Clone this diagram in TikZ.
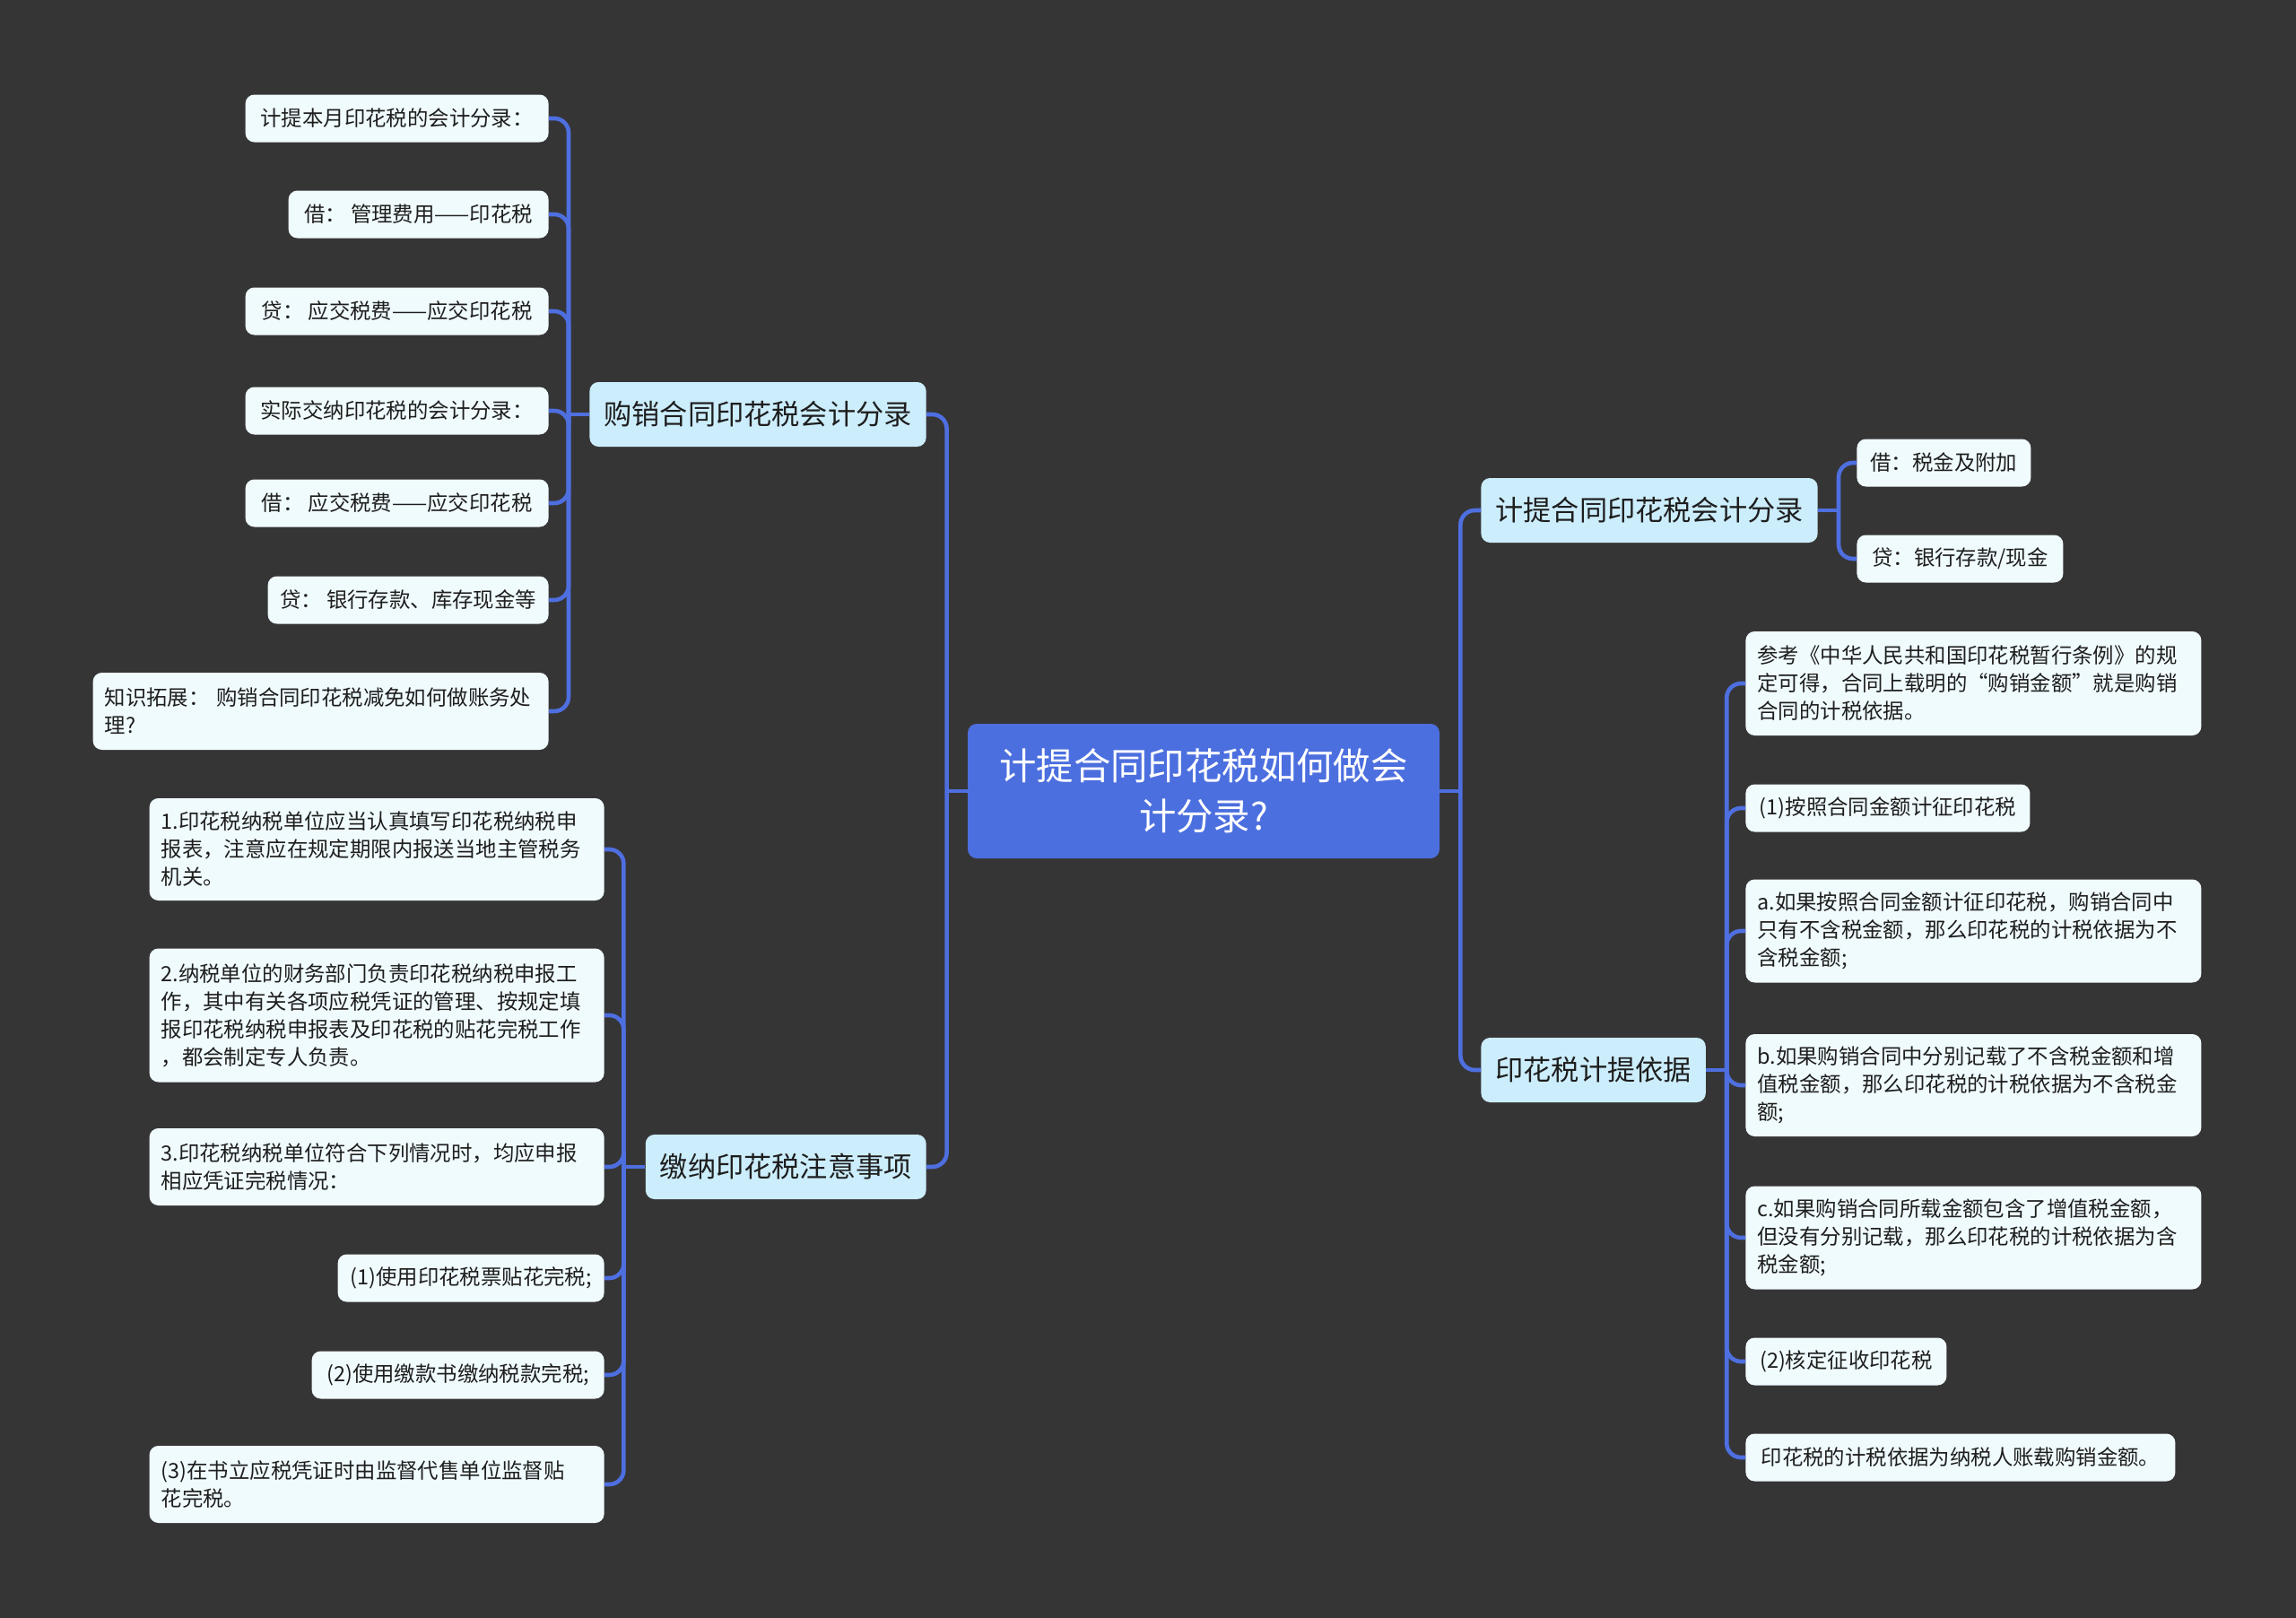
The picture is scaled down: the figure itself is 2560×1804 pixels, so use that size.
\documentclass[tikz,border=0pt]{standalone}
\usepackage{fontspec}
\setmainfont{Noto Sans CJK SC}
\definecolor{bgc}{HTML}{363536}
\definecolor{linec}{HTML}{4E6FE0}
\definecolor{rootc}{HTML}{4C6FDF}
\definecolor{lvone}{HTML}{CCEDFC}
\definecolor{lvtwo}{HTML}{F0FBFE}
\definecolor{txt}{HTML}{1E1E1E}
\begin{document}
\begin{tikzpicture}[x=0.5pt,y=-0.5pt,
  conn/.style={draw=linec, line width=2.3pt},
  branch/.style={conn, rounded corners=8pt},
  rootnode/.style={fill=rootc, rounded corners=5pt, text=white,
    font=\fontsize{20.7pt}{27.8pt}\selectfont, align=center, text width=250pt,
    minimum width=263pt, minimum height=75pt, inner sep=0pt},
  topic/.style={fill=lvone, rounded corners=5pt, text=txt,
    font=\fontsize{15.6pt}{20pt}\selectfont, inner xsep=8pt, inner ysep=0pt, minimum height=36pt},
  leaf/.style={fill=lvtwo, rounded corners=5pt, text=txt,
    font=\fontsize{11.7pt}{15.5pt}\selectfont, inner xsep=6.5pt, inner ysep=0pt, minimum height=26.5pt},
  mleaf/.style={leaf, align=left, text width=#1}
]
\fill[bgc] (0,0) rectangle (2560,1804);
\useasboundingbox (0,0) rectangle (2560,1804);

% root
\node[rootnode] (root) at (1342,882) {计提合同印花税如何做会\\计分录?};

% topics
\node[topic, anchor=east] (t1) at (1033,462) {购销合同印花税会计分录};
\node[topic, anchor=east] (t2) at (1033,1301) {缴纳印花税注意事项};
\node[topic, anchor=west] (t3) at (1651,569) {计提合同印花税会计分录};
\node[topic, anchor=west] (t4) at (1651,1193) {印花税计提依据};

% left group 1
\node[leaf, anchor=east, minimum width=169pt] (g1a) at (612,132) {计提本月印花税的会计分录：};
\node[leaf, anchor=east, minimum width=145pt] (g1b) at (612,239) {借： 管理费用——印花税};
\node[leaf, anchor=east, minimum width=169pt] (g1c) at (612,347) {贷： 应交税费——应交印花税};
\node[leaf, anchor=east, minimum width=169pt] (g1d) at (612,458) {实际交纳印花税的会计分录：};
\node[leaf, anchor=east, minimum width=169pt] (g1e) at (612,561) {借： 应交税费——应交印花税};
\node[leaf, anchor=east, minimum width=156.5pt] (g1f) at (612,669) {贷： 银行存款、库存现金等};
\node[mleaf=241pt, anchor=east, minimum height=43pt] (g1g) at (612,793) {知识拓展： 购销合同印花税减免如何做账务处\\理?};

% left group 2
\node[mleaf=240.5pt, anchor=east, minimum height=57pt] (g2a) at (674,947) {1.印花税纳税单位应当认真填写印花税纳税申\\报表，注意应在规定期限内报送当地主管税务\\机关。};
\node[mleaf=240.5pt, anchor=east, minimum height=74.5pt] (g2b) at (674,1132) {2.纳税单位的财务部门负责印花税纳税申报工\\作，其中有关各项应税凭证的管理、按规定填\\报印花税纳税申报表及印花税的贴花完税工作\\，都会制定专人负责。};
\node[mleaf=240.5pt, anchor=east, minimum height=43pt] (g2c) at (674,1301) {3.印花税纳税单位符合下列情况时，均应申报\\相应凭证完税情况：};
\node[leaf, anchor=east, minimum width=148.5pt] (g2d) at (674,1425) {(1)使用印花税票贴花完税;};
\node[leaf, anchor=east, minimum width=163pt] (g2e) at (674,1533) {(2)使用缴款书缴纳税款完税;};
\node[mleaf=240.5pt, anchor=east, minimum height=43pt] (g2f) at (674,1655) {(3)在书立应税凭证时由监督代售单位监督贴\\花完税。};

% right group 1
\node[leaf, anchor=west, minimum width=97pt] (r1a) at (2070,516) {借：税金及附加};
\node[leaf, anchor=west, minimum width=115pt] (r1b) at (2070,623) {贷：银行存款/现金};

% right group 2
\node[mleaf=241pt, anchor=west, minimum height=58pt] (r2a) at (1946,762) {参考《中华人民共和国印花税暂行条例》的规\\定可得，合同上载明的“购销金额”就是购销\\合同的计税依据。};
\node[leaf, anchor=west, minimum width=158.5pt] (r2b) at (1946,901) {(1)按照合同金额计征印花税};
\node[mleaf=241pt, anchor=west, minimum height=57.5pt] (r2c) at (1946,1038) {a.如果按照合同金额计征印花税，购销合同中\\只有不含税金额，那么印花税的计税依据为不\\含税金额;};
\node[mleaf=241pt, anchor=west, minimum height=57pt] (r2d) at (1946,1210) {b.如果购销合同中分别记载了不含税金额和增\\值税金额，那么印花税的计税依据为不含税金\\额;};
\node[mleaf=241pt, anchor=west, minimum height=57.5pt] (r2e) at (1946,1380) {c.如果购销合同所载金额包含了增值税金额，\\但没有分别记载，那么印花税的计税依据为含\\税金额;};
\node[leaf, anchor=west, minimum width=112pt] (r2f) at (1946,1518) {(2)核定征收印花税};
\node[leaf, anchor=west, minimum width=239.5pt] (r2g) at (1946,1625) {印花税的计税依据为纳税人账载购销金额。};

% connectors: root
\draw[conn] (root.west) -- ++(-23,0) coordinate (jA);
\draw[conn] (root.east) -- ++(23,0) coordinate (jB);
\foreach \c in {t1,t2} \draw[branch] (jA) |- (\c.east);
\foreach \c in {t3,t4} \draw[branch] (jB) |- (\c.west);

% topic 1
\draw[conn] (t1.west) -- ++(-23,0) coordinate (j1);
\foreach \c in {g1a,g1b,g1c,g1d,g1e,g1f,g1g} \draw[branch] (j1) |- (\c.east);
% topic 2
\draw[conn] (t2.west) -- ++(-24,0) coordinate (j2);
\foreach \c in {g2a,g2b,g2c,g2d,g2e,g2f} \draw[branch] (j2) |- (\c.east);
% topic 3
\draw[conn] (t3.east) -- ++(23,0) coordinate (j3);
\foreach \c in {r1a,r1b} \draw[branch] (j3) |- (\c.west);
% topic 4
\draw[conn] (t4.east) -- ++(23,0) coordinate (j4);
\foreach \c in {r2a,r2b,r2c,r2d,r2e,r2f,r2g} \draw[branch] (j4) |- (\c.west);
\end{tikzpicture}
\end{document}
